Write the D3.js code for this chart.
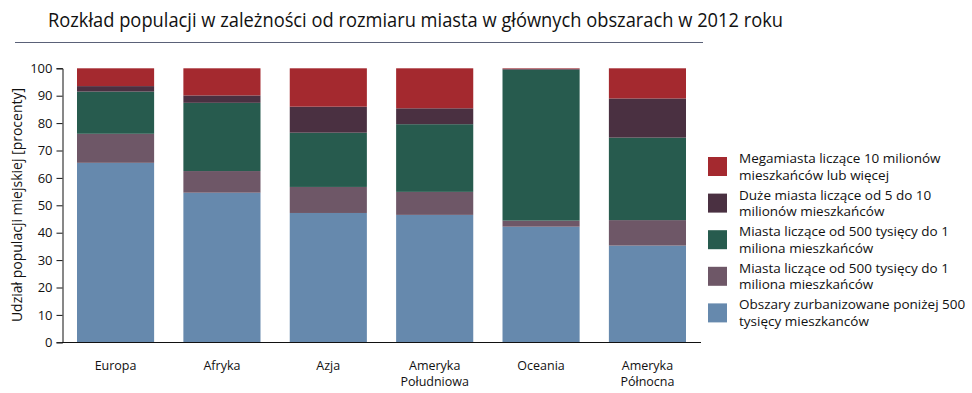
<!DOCTYPE html>
<html>
<head>
<meta charset="utf-8">
<script src="https://cdn.jsdelivr.net/npm/d3@7"></script>
<style>
    body { margin: 0; background: #fff; }
    svg { display: block; font-family: "Open Sans", sans-serif; }
</style>
</head>
<body>
<div id="chart"></div>
<script>
// regions on the x axis (line breaks split with |)
const regions = ['Europa', 'Afryka', 'Azja', 'Ameryka|Południowa', 'Oceania', 'Ameryka|Północna']

// series, bottom to top (percent of urban population)
const below500k = [65.5, 54.6, 47.2, 46.5, 42.2, 35.3]
const from500kTo1m = [10.6, 7.9, 9.5, 8.4, 2.2, 9.3]
const from1mTo5m = [15.4, 24.9, 19.8, 24.7, 55.1, 30.1]
const from5mTo10m = [2.0, 2.7, 9.5, 5.8, 0.3, 14.3]
const megacities = [6.5, 9.9, 14.0, 14.6, 0.2, 11.0]

const seriesKeys = ['below500k', 'from500kTo1m', 'from1mTo5m', 'from5mTo10m', 'megacities']
const seriesValues = [below500k, from500kTo1m, from1mTo5m, from5mTo10m, megacities]
const seriesColors = ['#6689ad', '#6e5767', '#275b4e', '#4a3041', '#a4292f']

// legend labels, top to bottom (as in the original)
const legendLabels = [
    ['Megamiasta liczące 10 milionów', 'mieszkańców lub więcej'],
    ['Duże miasta liczące od 5 do 10', 'milionów mieszkańców'],
    ['Miasta liczące od 500 tysięcy do 1', 'miliona mieszkańców'],
    ['Miasta liczące od 500 tysięcy do 1', 'miliona mieszkańców'],
    ['Obszary zurbanizowane poniżej 500', 'tysięcy  mieszkanców']
]

const yTicks = [0, 10, 20, 30, 40, 50, 60, 70, 80, 90, 100]

const width = 972
const height = 393

const svg = d3.select('#chart')
    .append('svg')
        .attr('width', width)
        .attr('height', height)

// build rows for the stack
const rows = regions.map((r, i) => {
    const row = { region: r }
    seriesKeys.forEach((k, j) => { row[k] = seriesValues[j][i] })
    return row
})

const stacked = d3.stack().keys(seriesKeys)(rows)

const xScale = d3.scaleBand()
    .domain(regions)
    .range([77, 686])
    .paddingInner(0.275)
    .paddingOuter(0)

const yScale = d3.scaleLinear()
    .domain([0, 100])
    .range([342.3, 68.3])

// title
svg.append('text')
    .attr('x', 48)
    .attr('y', 27)
    .attr('textLength', 735)
    .attr('lengthAdjust', 'spacingAndGlyphs')
    .style('font-size', '20px')
    .style('fill', '#111')
    .text('Rozkład populacji w zależności od rozmiaru miasta w głównych obszarach w 2012 roku')

svg.append('line')
    .attr('x1', 15)
    .attr('x2', 703)
    .attr('y1', 42.5)
    .attr('y2', 42.5)
    .style('stroke', '#5a6178')
    .style('stroke-width', 1.2)

// bars
const layer = svg.append('g')
    .selectAll('g')
    .data(stacked)
    .enter()
    .append('g')
        .style('fill', (d, i) => seriesColors[i])

layer.selectAll('rect')
    .data(d => d)
    .enter()
    .append('rect')
        .attr('x', d => xScale(d.data.region))
        .attr('width', xScale.bandwidth())
        .attr('y', d => yScale(d[1]))
        .attr('height', d => yScale(d[0]) - yScale(d[1]))

// y axis
const yAxis = d3.axisLeft(yScale)
    .tickValues(yTicks)
    .tickSize(6)
    .tickPadding(4)

const yAxisG = svg.append('g')
    .attr('transform', 'translate(62.5,0)')
    .call(yAxis)

yAxisG.select('.domain').style('stroke', '#111')
yAxisG.selectAll('.tick line').style('stroke', '#111')
yAxisG.selectAll('.tick text')
    .style('font-size', '13px')
    .style('font-family', '"Open Sans", sans-serif')
    .style('fill', '#111')

// x axis baseline
svg.append('line')
    .attr('x1', 62)
    .attr('x2', 701)
    .attr('y1', 342.5)
    .attr('y2', 342.5)
    .style('stroke', '#111')
    .style('stroke-width', 1)

// x labels
const xLabels = svg.append('g')
    .selectAll('text')
    .data(regions)
    .enter()
    .append('text')
        .attr('x', d => xScale(d) + xScale.bandwidth() / 2)
        .attr('y', 370)
        .attr('text-anchor', 'middle')
        .style('font-size', '12.5px')
        .style('fill', '#111')

xLabels.selectAll('tspan')
    .data(d => d.split('|'))
    .enter()
    .append('tspan')
        .attr('x', function() { return d3.select(this.parentNode).attr('x') })
        .attr('dy', (d, i) => i === 0 ? 0 : 16)
        .text(d => d)

// y axis title
svg.append('text')
    .attr('transform', 'translate(22,205) rotate(-90)')
    .attr('text-anchor', 'middle')
    .style('font-size', '14px')
    .style('fill', '#111')
    .text('Udział populacji miejskiej [procenty]')

// legend
const legendColors = seriesColors.slice().reverse()

const legend = svg.append('g')
    .selectAll('g')
    .data(legendLabels)
    .enter()
    .append('g')
        .attr('transform', (d, i) => `translate(708, ${157 + i * 36.6})`)

legend.append('rect')
    .attr('width', 19)
    .attr('height', 19)
    .style('fill', (d, i) => legendColors[i])

legend.append('text')
    .attr('x', 31)
    .attr('y', 6)
    .style('font-size', '13.5px')
    .style('fill', '#111')
    .selectAll('tspan')
    .data(d => d)
    .enter()
    .append('tspan')
        .attr('x', 31)
        .attr('dy', (d, i) => i === 0 ? 0 : 16.5)
        .text(d => d)
</script>
</body>
</html>
